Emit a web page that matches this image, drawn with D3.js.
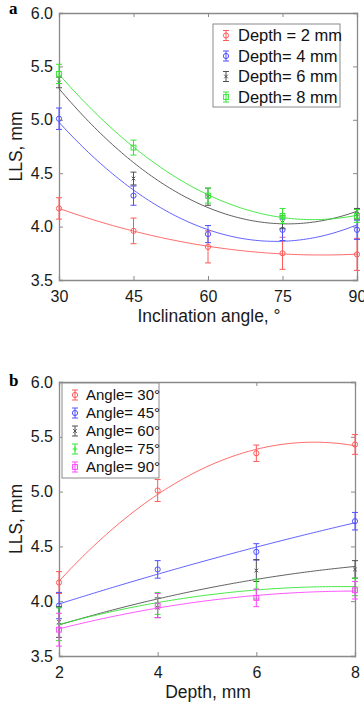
<!DOCTYPE html>
<html><head><meta charset="utf-8">
<script src="https://cdn.jsdelivr.net/npm/d3@7"></script>
<style>
html,body{margin:0;padding:0;background:#fff;}
svg{display:block;font-family:"Liberation Sans",Arial,sans-serif;}
</style></head>
<body>
<svg id="chart" width="364" height="705"></svg>
<script>
// ---------- Panel a data ----------
const anglesA = [30, 45, 60, 75, 90];
const angleTicks = [30, 45, 60, 75, 90];
const depth2 = [4.17, 3.96, 3.81, 3.75, 3.74];
const depth2Err = [0.10, 0.12, 0.15, 0.15, 0.15];
const depth4 = [5.01, 4.29, 3.93, 3.97, 3.97];
const depth4Err = [0.10, 0.09, 0.08, 0.10, 0.09];
const depth6 = [5.35, 4.45, 4.28, 4.04, 4.12];
const depth6Err = [0.05, 0.06, 0.08, 0.06, 0.05];
const depth8 = [5.43, 4.74, 4.29, 4.10, 4.10];
const depth8Err = [0.09, 0.07, 0.07, 0.07, 0.06];
const legendA = ["Depth = 2 mm", "Depth= 4 mm", "Depth= 6 mm", "Depth= 8 mm"];

// ---------- Panel b data ----------
const depthsB = [2, 4, 6, 8];
const depthTicks = [2, 4, 6, 8];
const angle30 = [4.17, 5.01, 5.35, 5.43];
const angle30Err = [0.10, 0.10, 0.075, 0.09];
const angle45 = [3.96, 4.29, 4.45, 4.73];
const angle45Err = [0.12, 0.08, 0.075, 0.08];
const angle60 = [3.81, 3.94, 4.28, 4.29];
const angle60Err = [0.14, 0.09, 0.10, 0.08];
const angle75 = [3.79, 3.98, 4.11, 4.13];
const angle75Err = [0.15, 0.10, 0.09, 0.08];
const angle90 = [3.74, 3.96, 4.03, 4.10];
const angle90Err = [0.15, 0.11, 0.08, 0.08];
const legendB = ["Angle= 30°", "Angle= 45°", "Angle= 60°", "Angle= 75°", "Angle= 90°"];

const yTicks = [3.5, 4.0, 4.5, 5.0, 5.5, 6.0];

const C = {red:"#ff5a5a", blue:"#5050ff", black:"#505050", green:"#33e633", magenta:"#ff44ff"};

// quadratic least squares fit
function quadFit(xs, ys) {
  const n = xs.length;
  let S = [0,0,0,0,0], T = [0,0,0];
  for (let i = 0; i < n; i++) {
    let p = 1;
    for (let k = 0; k < 5; k++) { S[k] += p; if (k < 3) T[k] += p * ys[i]; p *= xs[i]; }
  }
  const M = [[S[0],S[1],S[2],T[0]],[S[1],S[2],S[3],T[1]],[S[2],S[3],S[4],T[2]]];
  for (let c = 0; c < 3; c++) {
    for (let r = c + 1; r < 3; r++) {
      const f = M[r][c] / M[c][c];
      for (let k = c; k < 4; k++) M[r][k] -= f * M[c][k];
    }
  }
  const a = [0,0,0];
  for (let r = 2; r >= 0; r--) {
    let s = M[r][3];
    for (let k = r + 1; k < 3; k++) s -= M[r][k] * a[k];
    a[r] = s / M[r][r];
  }
  return x => a[0] + a[1]*x + a[2]*x*x;
}

const svg = d3.select("#chart");

function marker(g, type, x, y, color) {
  if (type === "circle") {
    g.append("circle").attr("cx", x).attr("cy", y).attr("r", 2.6)
      .attr("fill", "none").attr("stroke", color).attr("stroke-width", 1);
  } else if (type === "square") {
    g.append("rect").attr("x", x - 2.4).attr("y", y - 2.4).attr("width", 4.8).attr("height", 4.8)
      .attr("fill", "none").attr("stroke", color).attr("stroke-width", 1);
  } else if (type === "x") {
    g.append("path").attr("d", `M${x-1.8},${y-1.8}L${x+1.8},${y+1.8}M${x-1.8},${y+1.8}L${x+1.8},${y-1.8}`)
      .attr("stroke", color).attr("stroke-width", 1);
  } else if (type === "plus") {
    g.append("path").attr("d", `M${x-2.4},${y}L${x+2.4},${y}M${x},${y-2.4}L${x},${y+2.4}`)
      .attr("stroke", color).attr("stroke-width", 1);
  }
}

function errBar(g, x, y0, y1, color) {
  g.append("path")
    .attr("d", `M${x},${y0}L${x},${y1}M${x-3},${y0}L${x+3},${y0}M${x-3},${y1}L${x+3},${y1}`)
    .attr("stroke", color).attr("stroke-width", 1).attr("fill", "none");
}

function panel(cfg) {
  const {left, right, top, bottom, xDomain, xTicks, series, xs, label, labelY, xTitle, legend} = cfg;
  const x = d3.scaleLinear().domain(xDomain).range([left, right]);
  const y = d3.scaleLinear().domain([3.5, 6.0]).range([bottom, top]);
  const g = svg.append("g");

  const axisColor = "#8a8a8a";
  const tl = 4;
  const mk = (a, tr, cls) => {
    const ag = g.append("g").attr("class", cls).attr("transform", tr).call(a);
    ag.select(".domain").attr("stroke", axisColor).attr("stroke-width", 1.3);
    ag.selectAll(".tick line").attr("stroke", axisColor);
    ag.selectAll(".tick text").attr("fill", "#1a1a1a").style("font-size", "16px")
      .style("font-family", "'Liberation Sans',Arial,sans-serif");
    return ag;
  };
  mk(d3.axisBottom(x).tickValues(xTicks).tickSize(-tl).tickFormat(d3.format("d")), `translate(0,${bottom})`, "xb")
    .selectAll(".tick text").attr("y", 6).attr("dy", "1.0em");
  mk(d3.axisTop(x).tickValues(xTicks).tickSize(-tl).tickFormat(""), `translate(0,${top})`, "xt");
  mk(d3.axisLeft(y).tickValues(yTicks).tickSize(-tl).tickFormat(d3.format(".1f")), `translate(${left},0)`, "yl")
    .selectAll(".tick text").attr("x", -6);
  mk(d3.axisRight(y).tickValues(yTicks).tickSize(-tl).tickFormat(""), `translate(${right},0)`, "yr");

  // curves, error bars, markers
  const samples = d3.range(0, 101).map(i => xDomain[0] + (xDomain[1] - xDomain[0]) * i / 100);
  series.forEach(s => {
    const f = quadFit(xs, s.values);
    g.append("path").datum(samples)
      .attr("d", d3.line().x(d => x(d)).y(d => y(f(d))))
      .attr("fill", "none").attr("stroke", s.color).attr("stroke-width", 1).attr("opacity", 0.9);
  });
  series.forEach(s => {
    s.values.forEach((v, i) => {
      errBar(g, x(xs[i]), y(v + s.err[i]), y(v - s.err[i]), s.color);
      marker(g, s.marker, x(xs[i]), y(v), s.color);
    });
  });

  // legend
  const L = legend;
  g.append("rect").attr("x", L.x).attr("y", L.y).attr("width", L.w).attr("height", L.h)
    .attr("fill", "#fff").attr("stroke", "#8a8a8a").attr("stroke-width", 1);
  series.forEach((s, i) => {
    const cy = L.y + L.first + i * L.step;
    errBar(g, L.mx, cy - 5, cy + 5, s.color);
    marker(g, s.marker, L.mx, cy, s.color);
    g.append("text").attr("x", L.tx).attr("y", cy).attr("dy", "0.36em")
      .style("font-size", L.fs + "px").attr("fill", "#111").text(cfg.legendText[i]);
  });

  // titles
  g.append("text").attr("x", (left + right) / 2 + 1).attr("y", bottom + 42)
    .attr("text-anchor", "middle").style("font-size", "17.5px").attr("fill", "#1a1a1a").text(xTitle);
  g.append("text").attr("transform", `translate(${left - 37},${(top + bottom) / 2}) rotate(-90)`)
    .attr("text-anchor", "middle").style("font-size", "17.5px").attr("fill", "#1a1a1a").text("LLS, mm");
  g.append("text").attr("x", left - 50).attr("y", labelY).attr("text-anchor", "start")
    .style("font-family", "'Liberation Serif','Times New Roman',serif").style("font-weight", "bold")
    .style("font-size", "17px").attr("fill", "#000").text(label);
}

panel({
  left: 59, right: 357, top: 13, bottom: 280, labelY: 14,
  xDomain: [30, 90], xTicks: angleTicks, xs: anglesA,
  label: "a", xTitle: "Inclination angle, °",
  series: [
    {values: depth2, err: depth2Err, color: C.red, marker: "circle"},
    {values: depth4, err: depth4Err, color: C.blue, marker: "circle"},
    {values: depth6, err: depth6Err, color: C.black, marker: "x"},
    {values: depth8, err: depth8Err, color: C.green, marker: "square"}
  ],
  legendText: legendA,
  legend: {x: 213, y: 24, w: 127, h: 83, first: 11.5, step: 20.5, mx: 226, tx: 238, fs: 16.5}
});

panel({
  left: 59, right: 355, top: 382, bottom: 656, labelY: 386,
  xDomain: [2, 8], xTicks: depthTicks, xs: depthsB,
  label: "b", xTitle: "Depth, mm",
  series: [
    {values: angle30, err: angle30Err, color: C.red, marker: "circle"},
    {values: angle45, err: angle45Err, color: C.blue, marker: "circle"},
    {values: angle60, err: angle60Err, color: C.black, marker: "x"},
    {values: angle75, err: angle75Err, color: C.green, marker: "plus"},
    {values: angle90, err: angle90Err, color: C.magenta, marker: "square"}
  ],
  legendText: legendB,
  legend: {x: 62, y: 383, w: 97, h: 95, first: 12, step: 18, mx: 75, tx: 86, fs: 15}
});
</script>
</body></html>
